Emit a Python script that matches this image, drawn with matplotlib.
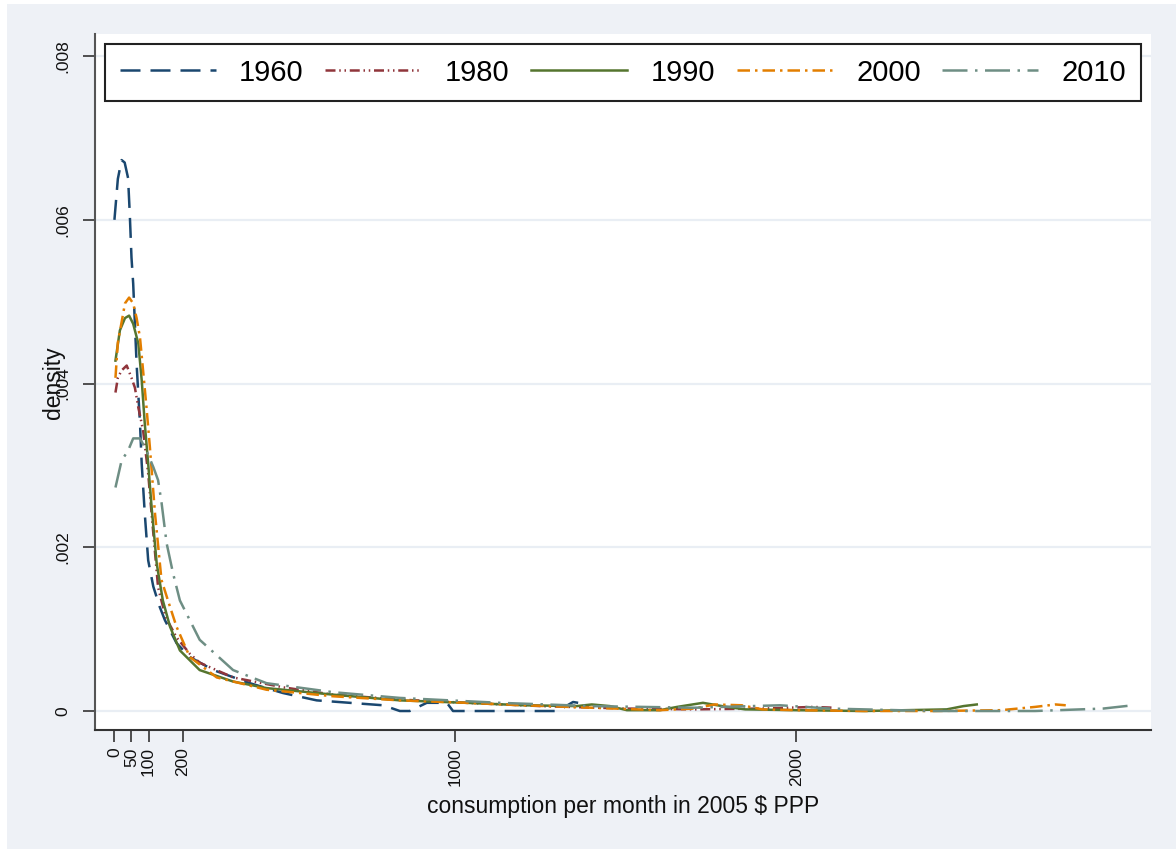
import numpy as np
import matplotlib
matplotlib.use("Agg")
import matplotlib.pyplot as plt
from matplotlib.patches import Rectangle

plt.rcParams['font.family'] = ['Liberation Sans', 'DejaVu Sans']

# density of consumption per month (2005 $ PPP)
x1960 = [0, 10, 21, 30, 40, 45, 50, 55, 65, 75, 80, 89, 99, 114, 133, 148, 182, 221,
         290, 397, 494, 593, 690, 788, 837, 866, 916, 975, 993, 1100, 1200, 1300, 1345, 1360]
y1960 = [.0060, .0065, .00673, .0067, .00651, .00607, .00554, .00522, .00424, .00351,
         .00302, .00241, .00184, .00152, .00127, .00111, .00083, .00066, .0005, .00034,
         .00022, .00013, .0001, .00007, 0, 0, .0001, .0001, 0, 0, 0, 0, .00011, .0001]

x1980 = [3, 10, 21, 36, 50, 60, 70, 84, 99, 109, 128, 150, 182, 221, 250, 348, 494, 641,
         837, 1032, 1250, 1500, 1700, 1900, 2050, 2110]
y1980 = [.00389, .00407, .00416, .00422, .00407, .00395, .00371, .00343, .0029, .00241,
         .00151, .00115, .0009, .0007, .00059, .00041, .00029, .0002, .00014, .0001,
         .00006, .00003, .00002, .00003, .00005, .00004]

x1990 = [3, 16, 31, 43, 55, 70, 80, 89, 99, 109, 124, 142, 163, 192, 250, 348, 446, 641,
         837, 1032, 1200, 1356, 1400, 1453, 1503, 1600, 1650, 1726, 1796, 1850, 2000, 2200,
         2441, 2490, 2529]
y1990 = [.00428, .00465, .0048, .00483, .00473, .00449, .00404, .00351, .00302, .00249,
         .0018, .00135, .00103, .00074, .0005, .00036, .00028, .0002, .00013, .0001,
         .00007, .00006, .00008, .00006, .00001, .00001, .00005, .0001, .00005, .00002,
         .00001, 0, .00002, .00006, .00008]

x2000 = [3, 10, 21, 31, 43, 55, 65, 75, 84, 94, 104, 119, 138, 157, 182, 221, 300, 446,
         641, 837, 1032, 1200, 1400, 1600, 1700, 1760, 1840, 1900, 2000, 2200, 2400, 2600,
         2700, 2760, 2790]
y2000 = [.00407, .0045, .00475, .00498, .00505, .00498, .0048, .00456, .00416, .00371,
         .00322, .00241, .0016, .00135, .00103, .00066, .00041, .00026, .00018, .00013,
         .0001, .00007, .00004, .00001, .00003, .00008, .00007, .00002, .00001, 0, 0,
         .00001, .00005, .00008, .00007]

x2010 = [3, 21, 40, 55, 75, 94, 114, 128, 138, 153, 172, 192, 250, 348, 446, 641, 837,
         1130, 1400, 1700, 1952, 2100, 2396, 2700, 2900, 2987]
y2010 = [.00273, .00306, .00318, .00333, .00333, .00318, .00298, .00282, .00255, .00205,
         .00168, .00135, .00087, .0005, .00034, .00023, .00016, .0001, .00006, .00004,
         .00007, .00003, 0, 0, .00003, .00007]

years = ['1960', '1980', '1990', '2000', '2010']
colors = ['#1a476f', '#90353b', '#55752f', '#e37e00', '#6e8e84']
styles = [(0, (8, 4)), (0, (4, 1.5, 0.6, 1.5, 0.6, 1.5)), '-', (0, (5, 2, 1, 2)),
          (0, (10, 3, 1, 3))]
xs = [x1960, x1980, x1990, x2000, x2010]
ys = [y1960, y1980, y1990, y2000, y2010]

yticks = [0, .002, .004, .006, .008]
ylabels = ['0', '.002', '.004', '.006', '.008']
xticks = [0, 50, 100, 200, 1000, 2000]

W, H = 1176, 849
fig = plt.figure(figsize=(W / 100, H / 100), dpi=100)
fig.patch.set_facecolor('white')
fig.add_artist(Rectangle((7 / W, 0), 1 - 7 / W, 1 - 4 / H, transform=fig.transFigure,
                         facecolor='#eef1f6', edgecolor='none', zorder=-10))

ax = fig.add_axes([95 / W, 1 - 730 / H, (1151 - 95) / W, (730 - 34) / H])
ax.set_facecolor('white')

for yr, c, ls, x, y in zip(years, colors, styles, xs, ys):
    ax.plot(x, y, color=c, linestyle=ls, lw=1.8, label=yr, zorder=3)

ax.set_xlim(-57, 3040)
ax.set_ylim(-0.000232, 0.00827)
for t in yticks:
    ax.axhline(t, color='#e9eef4', lw=1.6, zorder=1)

for s in ['top', 'right']:
    ax.spines[s].set_visible(False)
ax.spines['left'].set_color('#555555')
ax.spines['bottom'].set_color('#333333')
ax.spines['left'].set_linewidth(1.5)
ax.spines['bottom'].set_linewidth(1.5)

ax.set_yticks(yticks)
ax.set_yticklabels(ylabels, rotation=90, va='center')
ax.set_xticks(xticks)
ax.set_xticklabels([str(t) for t in xticks], rotation=90)
ax.tick_params(axis='both', length=8.5, width=1.2, color='#333333', labelsize=12.5,
               labelcolor='#111111')
ax.tick_params(axis='y', pad=9)
ax.tick_params(axis='x', pad=4)

ax.set_xlabel('consumption per month in 2005 $ PPP', fontsize=16.5, color='#111111')
ax.xaxis.set_label_coords(0.5, -0.094)
fig.text(53 / W, 1 - 383 / H, 'density', rotation=90, ha='center', va='center',
         fontsize=16.5, color='#111111')

leg = ax.legend(loc='upper left', bbox_to_anchor=(0.0095, 0.908, 0.981, 0.0776),
                mode='expand', ncol=5, fontsize=21, handlelength=3.3,
                handletextpad=0.8, borderaxespad=0, fancybox=False, framealpha=1,
                borderpad=0.5)
leg.get_frame().set_edgecolor('#222222')
leg.get_frame().set_linewidth(1.5)

fig.savefig('out.png', dpi=100)
